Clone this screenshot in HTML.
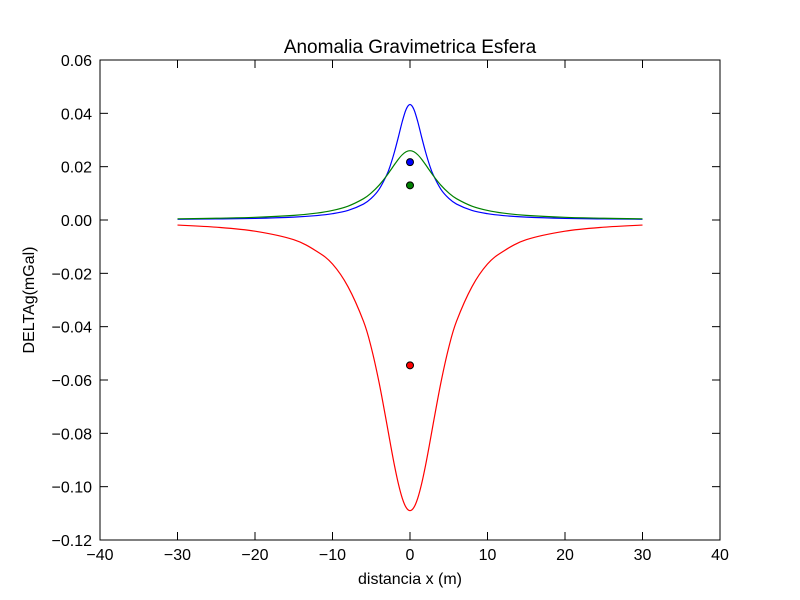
<!DOCTYPE html>
<html><head><meta charset="utf-8"><style>
body{margin:0;background:#fff;}
svg{display:block;font-family:"Liberation Sans","DejaVu Sans",sans-serif;}
</style></head><body>
<svg id="chart" width="800" height="600">
<rect width="800" height="600" fill="#fff"/>
<text x="410" y="53" font-size="19" text-anchor="middle">Anomalia Gravimetrica Esfera</text>
<text x="410" y="584" font-size="16" text-anchor="middle">distancia x (m)</text>
<text x="34" y="300" font-size="16" text-anchor="middle" transform="rotate(-90 34 300)">DELTAg(mGal)</text>
<g id="plot"></g>
</svg>
<script>
const xs=[-30,-25,-20,-15,-12,-10,-8,-6,-5,-4,-3,-2.5,-2,-1.5,-1,-0.5,0,0.5,1,1.5,2,2.5,3,4,5,6,8,10,12,15,20,25,30];
const blueVals=[0.00028,0.0004,0.00061,0.00108,0.00167,0.00236,0.00357,0.00597,0.00811,0.01146,0.0169,0.0208,0.0256,0.0311,0.0369,0.0415,0.0433,0.0415,0.0369,0.0311,0.0256,0.0208,0.0169,0.01146,0.00811,0.00597,0.00357,0.00236,0.00167,0.00108,0.00061,0.0004,0.00028];
const greenVals=[0.00045,0.00065,0.001,0.00173,0.0026,0.00359,0.0052,0.008,0.01015,0.013,0.01664,0.0187,0.0208,0.0228,0.02447,0.0256,0.026,0.0256,0.02447,0.0228,0.0208,0.0187,0.01664,0.013,0.01015,0.008,0.0052,0.00359,0.0026,0.00173,0.001,0.00065,0.00045];
const redVals=[-0.0019,-0.0027,-0.0042,-0.0074,-0.0118,-0.0165,-0.025,-0.038,-0.0478,-0.0608,-0.0763,-0.0844,-0.0921,-0.0989,-0.1043,-0.1078,-0.109,-0.1078,-0.1043,-0.0989,-0.0921,-0.0844,-0.0763,-0.0608,-0.0478,-0.038,-0.025,-0.0165,-0.0118,-0.0074,-0.0042,-0.0027,-0.0019];
const pointX=[0,0,0];
const pointY=[0.0217,0.013,-0.0545];
const pointColors=['#0000ff','#008000','#ff0000'];
const xTicks=[-40,-30,-20,-10,0,10,20,30,40];
const yTicks=[-0.12,-0.10,-0.08,-0.06,-0.04,-0.02,0.00,0.02,0.04,0.06];
const yTickLabels=['\u22120.12','\u22120.10','\u22120.08','\u22120.06','\u22120.04','\u22120.02','0.00','0.02','0.04','0.06'];

const L=100,R=720,T=60,B=540;
const sx=v=>L+(v+40)/80*(R-L);
const sy=v=>B-(v+0.12)/0.18*(B-T);
const NS='http://www.w3.org/2000/svg';
const g=document.getElementById('plot');
function mk(tag,attrs){const e=document.createElementNS(NS,tag);for(const k in attrs)e.setAttribute(k,attrs[k]);g.appendChild(e);return e;}
function pathFor(vals){
  const p=xs.map((x,i)=>[sx(x),sy(vals[i])]);
  let d='M'+p[0][0]+','+p[0][1];
  for(let i=0;i<p.length-1;i++){
    const p0=p[i-1]||p[i],p1=p[i],p2=p[i+1],p3=p[i+2]||p[i+1];
    const c1=[p1[0]+(p2[0]-p0[0])/6,p1[1]+(p2[1]-p0[1])/6];
    const c2=[p2[0]-(p3[0]-p1[0])/6,p2[1]-(p3[1]-p1[1])/6];
    d+=' C'+c1+' '+c2+' '+p2;
  }
  return d;
}
[[blueVals,'#0000ff','blue-curve'],[greenVals,'#008000','green-curve'],[redVals,'#ff0000','red-curve']].forEach(s=>{
  const e=mk('path',{d:pathFor(s[0]),fill:'none',stroke:s[1],'stroke-width':1.2});
  
  
});
pointY.forEach((v,i)=>{
  const e=mk('circle',{cx:sx(pointX[i]),cy:sy(v),r:3.5,fill:pointColors[i],stroke:'#000','stroke-width':1});
  
  
});
const frame=mk('rect',{x:L,y:T,width:R-L,height:B-T,fill:'none',stroke:'#000','stroke-width':1});


xTicks.forEach(v=>{
  const x=sx(v);
  mk('line',{x1:x,y1:B,x2:x,y2:B-8,stroke:'#000'});
  mk('line',{x1:x,y1:T,x2:x,y2:T+8,stroke:'#000'});
  const t=mk('text',{x:x,y:B+20,'font-size':16,'text-anchor':'middle'});
  t.textContent=(v<0?'\u2212':'')+Math.abs(v);
  
  
});
yTicks.forEach((v,i)=>{
  const y=sy(v);
  mk('line',{x1:L,y1:y,x2:L+8,y2:y,stroke:'#000'});
  mk('line',{x1:R,y1:y,x2:R-8,y2:y,stroke:'#000'});
  const t=mk('text',{x:L-8,y:y+6,'font-size':16,'text-anchor':'end'});
  t.textContent=yTickLabels[i];
  
  
});
</script>
</body></html>
